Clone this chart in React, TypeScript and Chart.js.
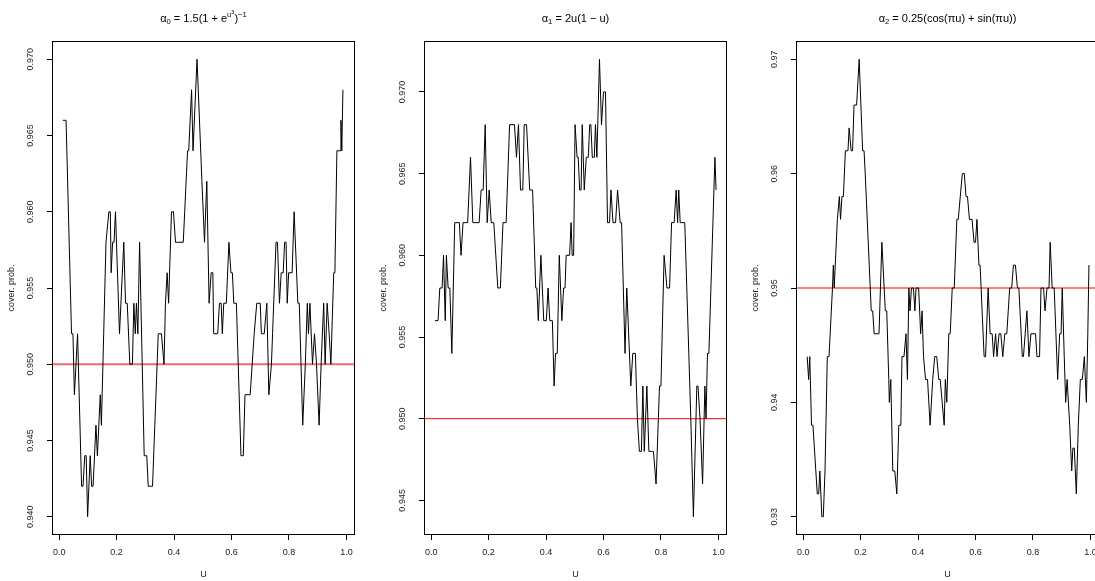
import React, { useEffect, useRef } from 'react';
import { Chart, registerables } from 'chart.js';

Chart.register(...registerables);

// ---------- data (u, coverage probability) ----------
const alpha0Series: [number, number][] = [
  [0.013, 0.966], [0.024, 0.966], [0.043, 0.952], [0.048, 0.952], [0.053, 0.948], [0.064, 0.952],
  [0.078, 0.942], [0.083, 0.942], [0.089, 0.944], [0.094, 0.944], [0.099, 0.940], [0.108, 0.944],
  [0.113, 0.942], [0.118, 0.942], [0.128, 0.946], [0.133, 0.944], [0.143, 0.948], [0.147, 0.946],
  [0.155, 0.952], [0.163, 0.958], [0.173, 0.960], [0.178, 0.960], [0.181, 0.956], [0.186, 0.958],
  [0.191, 0.958], [0.196, 0.960], [0.210, 0.952], [0.225, 0.958], [0.231, 0.954], [0.237, 0.954],
  [0.246, 0.950], [0.255, 0.950], [0.260, 0.954], [0.265, 0.952], [0.269, 0.954], [0.274, 0.952],
  [0.280, 0.958], [0.296, 0.944], [0.305, 0.944], [0.310, 0.942], [0.325, 0.942], [0.345, 0.952],
  [0.356, 0.952], [0.365, 0.950], [0.370, 0.954], [0.376, 0.956], [0.381, 0.954], [0.391, 0.960],
  [0.398, 0.960], [0.405, 0.958], [0.412, 0.958], [0.432, 0.958], [0.437, 0.960], [0.447, 0.964],
  [0.451, 0.964], [0.461, 0.968], [0.466, 0.964], [0.480, 0.970], [0.497, 0.962], [0.506, 0.958],
  [0.514, 0.962], [0.522, 0.954], [0.529, 0.956], [0.535, 0.956], [0.538, 0.952], [0.552, 0.952],
  [0.558, 0.954], [0.564, 0.954], [0.568, 0.952], [0.573, 0.954], [0.582, 0.954], [0.591, 0.958],
  [0.598, 0.956], [0.603, 0.956], [0.608, 0.954], [0.617, 0.954], [0.633, 0.944], [0.641, 0.944],
  [0.647, 0.948], [0.665, 0.948], [0.672, 0.950], [0.679, 0.952], [0.688, 0.954], [0.700, 0.954],
  [0.704, 0.952], [0.714, 0.952], [0.723, 0.954], [0.730, 0.948], [0.739, 0.950], [0.743, 0.952],
  [0.755, 0.958], [0.760, 0.958], [0.767, 0.954], [0.773, 0.956], [0.780, 0.956], [0.785, 0.958],
  [0.790, 0.958], [0.794, 0.954], [0.799, 0.956], [0.811, 0.956], [0.818, 0.960], [0.831, 0.954],
  [0.836, 0.954], [0.848, 0.946], [0.857, 0.950], [0.864, 0.954], [0.868, 0.952], [0.873, 0.954],
  [0.882, 0.950], [0.889, 0.952], [0.896, 0.950], [0.905, 0.946], [0.912, 0.950], [0.921, 0.954],
  [0.926, 0.950], [0.933, 0.954], [0.940, 0.952], [0.946, 0.950], [0.956, 0.956], [0.960, 0.956],
  [0.967, 0.964], [0.978, 0.964], [0.981, 0.966], [0.984, 0.964], [0.988, 0.968],
];

const alpha1Series: [number, number][] = [
  [0.013, 0.956], [0.024, 0.956], [0.030, 0.958], [0.038, 0.958], [0.043, 0.960], [0.049, 0.956],
  [0.053, 0.960], [0.059, 0.958], [0.065, 0.958], [0.072, 0.954], [0.082, 0.962], [0.098, 0.962],
  [0.104, 0.960], [0.111, 0.962], [0.127, 0.962], [0.137, 0.966], [0.145, 0.962], [0.167, 0.962],
  [0.174, 0.964], [0.181, 0.964], [0.188, 0.968], [0.195, 0.962], [0.202, 0.964], [0.209, 0.962],
  [0.218, 0.962], [0.232, 0.958], [0.241, 0.958], [0.250, 0.962], [0.261, 0.962], [0.273, 0.968],
  [0.290, 0.968], [0.297, 0.966], [0.304, 0.968], [0.311, 0.964], [0.319, 0.964], [0.324, 0.968],
  [0.332, 0.968], [0.343, 0.964], [0.353, 0.964], [0.364, 0.958], [0.368, 0.958], [0.373, 0.956],
  [0.382, 0.960], [0.392, 0.956], [0.401, 0.956], [0.407, 0.958], [0.413, 0.956], [0.422, 0.956],
  [0.428, 0.952], [0.433, 0.954], [0.439, 0.954], [0.446, 0.960], [0.455, 0.956], [0.461, 0.958],
  [0.466, 0.958], [0.470, 0.960], [0.482, 0.960], [0.487, 0.962], [0.491, 0.960], [0.496, 0.960],
  [0.501, 0.968], [0.508, 0.966], [0.512, 0.966], [0.517, 0.964], [0.522, 0.964], [0.526, 0.968],
  [0.533, 0.964], [0.540, 0.966], [0.547, 0.966], [0.552, 0.968], [0.556, 0.968], [0.561, 0.966],
  [0.568, 0.966], [0.572, 0.968], [0.577, 0.966], [0.586, 0.972], [0.593, 0.968], [0.600, 0.970],
  [0.607, 0.970], [0.614, 0.962], [0.621, 0.962], [0.626, 0.964], [0.633, 0.962], [0.642, 0.962],
  [0.649, 0.964], [0.658, 0.962], [0.663, 0.962], [0.675, 0.954], [0.681, 0.958], [0.695, 0.952],
  [0.702, 0.954], [0.711, 0.954], [0.718, 0.950], [0.725, 0.948], [0.732, 0.948], [0.737, 0.952],
  [0.742, 0.948], [0.751, 0.952], [0.758, 0.948], [0.767, 0.948], [0.774, 0.948], [0.783, 0.946],
  [0.795, 0.952], [0.800, 0.952], [0.811, 0.960], [0.821, 0.958], [0.830, 0.958], [0.837, 0.962],
  [0.846, 0.962], [0.853, 0.964], [0.858, 0.962], [0.862, 0.964], [0.867, 0.962], [0.883, 0.962],
  [0.897, 0.954], [0.904, 0.950], [0.913, 0.944], [0.925, 0.952], [0.929, 0.952], [0.936, 0.950],
  [0.945, 0.946], [0.953, 0.952], [0.957, 0.950], [0.962, 0.954], [0.967, 0.954], [0.974, 0.958],
  [0.981, 0.962], [0.988, 0.966], [0.992, 0.964],
];

const alpha2Series: [number, number][] = [
  [0.014, 0.944], [0.019, 0.942], [0.023, 0.944], [0.029, 0.938], [0.034, 0.938], [0.049, 0.932],
  [0.054, 0.932], [0.058, 0.934], [0.065, 0.930], [0.070, 0.930], [0.076, 0.934], [0.084, 0.944],
  [0.090, 0.944], [0.102, 0.950], [0.105, 0.952], [0.108, 0.950], [0.119, 0.956], [0.126, 0.958],
  [0.130, 0.956], [0.135, 0.958], [0.140, 0.958], [0.147, 0.962], [0.156, 0.962], [0.160, 0.964],
  [0.167, 0.962], [0.172, 0.962], [0.177, 0.966], [0.186, 0.966], [0.195, 0.970], [0.207, 0.962],
  [0.212, 0.962], [0.216, 0.960], [0.230, 0.952], [0.237, 0.948], [0.242, 0.948], [0.247, 0.946],
  [0.264, 0.946], [0.274, 0.954], [0.286, 0.948], [0.291, 0.948], [0.298, 0.942], [0.300, 0.940],
  [0.305, 0.942], [0.312, 0.934], [0.319, 0.934], [0.326, 0.932], [0.333, 0.938], [0.340, 0.938],
  [0.344, 0.944], [0.351, 0.944], [0.358, 0.946], [0.363, 0.942], [0.368, 0.950], [0.372, 0.948],
  [0.377, 0.950], [0.384, 0.950], [0.389, 0.948], [0.393, 0.950], [0.402, 0.950], [0.409, 0.946],
  [0.414, 0.948], [0.419, 0.944], [0.426, 0.942], [0.433, 0.942], [0.442, 0.938], [0.451, 0.942],
  [0.458, 0.944], [0.465, 0.944], [0.472, 0.942], [0.477, 0.942], [0.484, 0.940], [0.491, 0.938],
  [0.495, 0.942], [0.500, 0.940], [0.507, 0.946], [0.512, 0.946], [0.519, 0.950], [0.526, 0.950],
  [0.535, 0.956], [0.540, 0.956], [0.547, 0.958], [0.554, 0.960], [0.561, 0.960], [0.567, 0.958],
  [0.572, 0.958], [0.579, 0.956], [0.588, 0.956], [0.595, 0.954], [0.600, 0.954], [0.605, 0.956],
  [0.612, 0.952], [0.616, 0.952], [0.623, 0.948], [0.630, 0.944], [0.635, 0.944], [0.644, 0.950],
  [0.651, 0.946], [0.658, 0.946], [0.663, 0.944], [0.670, 0.946], [0.675, 0.944], [0.682, 0.946],
  [0.688, 0.946], [0.695, 0.944], [0.702, 0.946], [0.709, 0.946], [0.719, 0.950], [0.726, 0.950],
  [0.732, 0.952], [0.739, 0.952], [0.746, 0.950], [0.751, 0.950], [0.763, 0.944], [0.767, 0.944],
  [0.779, 0.948], [0.786, 0.944], [0.793, 0.946], [0.809, 0.946], [0.814, 0.944], [0.823, 0.944],
  [0.828, 0.950], [0.837, 0.950], [0.842, 0.948], [0.849, 0.950], [0.856, 0.950], [0.860, 0.954],
  [0.867, 0.950], [0.874, 0.950], [0.886, 0.942], [0.893, 0.946], [0.898, 0.946], [0.902, 0.950],
  [0.909, 0.944], [0.914, 0.940], [0.919, 0.942], [0.928, 0.938], [0.935, 0.934], [0.939, 0.936],
  [0.944, 0.936], [0.951, 0.932], [0.958, 0.938], [0.965, 0.942], [0.972, 0.942], [0.979, 0.944],
  [0.986, 0.940], [0.991, 0.946], [0.995, 0.952],
];

const xTicks = [0, 0.2, 0.4, 0.6, 0.8, 1.0];
const xTickLabels = ['0.0', '0.2', '0.4', '0.6', '0.8', '1.0'];
const yTicks0 = [0.94, 0.945, 0.95, 0.955, 0.96, 0.965, 0.97];
const yTickLabels0 = ['0.940', '0.945', '0.950', '0.955', '0.960', '0.965', '0.970'];
const yTicks1 = [0.945, 0.95, 0.955, 0.96, 0.965, 0.97];
const yTickLabels1 = ['0.945', '0.950', '0.955', '0.960', '0.965', '0.970'];
const yTicks2 = [0.93, 0.94, 0.95, 0.96, 0.97];
const yTickLabels2 = ['0.93', '0.94', '0.95', '0.96', '0.97'];
const nominalLevel = 0.95;
const xLabel = 'U';
const yLabel = 'cover. prob.';

type Seg = { t: string; s: number; dy: number };
const title0: Seg[] = [
  { t: 'α', s: 1, dy: 0 }, { t: '0', s: 0.7, dy: 0.25 }, { t: ' = 1.5(1 + e', s: 1, dy: 0 },
  { t: 'u', s: 0.7, dy: -0.42 }, { t: '3', s: 0.5, dy: -0.72 }, { t: ')', s: 1, dy: 0 },
  { t: '−1', s: 0.7, dy: -0.42 },
];
const title1: Seg[] = [
  { t: 'α', s: 1, dy: 0 }, { t: '1', s: 0.7, dy: 0.25 }, { t: ' = 2u(1 − u)', s: 1, dy: 0 },
];
const title2: Seg[] = [
  { t: 'α', s: 1, dy: 0 }, { t: '2', s: 0.7, dy: 0.25 }, { t: ' = 0.25(cos(πu) + sin(πu))', s: 1, dy: 0 },
];

// ---------- layout ----------
const PANEL_W = 372;
const H = 581;
const BOX_LEFT = 52;
const BOX_RIGHT = 355;
const BOX_TOP = 41;
const BOX_BOTTOM = 535;
const X_MIN = -0.025;
const X_MAX = 1.03;
const FONT = '"Liberation Sans", Arial, Helvetica, sans-serif';
const TICK_PX = 9;
const TITLE_PX = 11;

type PanelProps = {
  idx: number;
  series: [number, number][];
  yMin: number;
  yMax: number;
  yTicks: number[];
  yTickLabels: string[];
  title: Seg[];
  refColor: string;
  refWidth: number;
};

function Panel(p: PanelProps) {
  const ref = useRef<HTMLCanvasElement>(null);
  useEffect(() => {
    const canvas = ref.current!;
    const decor = {
      id: 'rdecor',
      afterDraw(chart: any) {
        const ctx = chart.ctx as CanvasRenderingContext2D;
        const a = chart.chartArea;
        const xs = chart.scales.x;
        const ys = chart.scales.y;
        ctx.save();
        // box
        ctx.strokeStyle = '#000';
        ctx.lineWidth = 1;
        const l = Math.round(a.left) + 0.5, r = Math.round(a.right) - 0.5;
        const t = Math.round(a.top) + 0.5, b = Math.round(a.bottom) - 0.5;
        ctx.strokeRect(l, t, r - l, b - t);
        ctx.fillStyle = '#1a1a1a';
        // x tick labels
        ctx.font = `${TICK_PX}px ${FONT}`;
        ctx.textAlign = 'center';
        ctx.textBaseline = 'alphabetic';
        xTicks.forEach((v, i) => {
          ctx.fillText(xTickLabels[i], xs.getPixelForValue(v), a.bottom + 20);
        });
        // x label
        ctx.fillText(xLabel, (a.left + a.right) / 2, a.bottom + 41.5);
        // y tick labels (rotated)
        p.yTicks.forEach((v, i) => {
          ctx.save();
          ctx.translate(a.left - 19.5, ys.getPixelForValue(v));
          ctx.rotate(-Math.PI / 2);
          ctx.fillText(p.yTickLabels[i], 0, 0);
          ctx.restore();
        });
        // y label
        ctx.save();
        ctx.translate(a.left - 38, (a.top + a.bottom) / 2);
        ctx.rotate(-Math.PI / 2);
        ctx.fillText(yLabel, 0, 0);
        ctx.restore();
        // title (plotmath-like)
        let total = 0;
        const widths: number[] = [];
        p.title.forEach((g) => {
          ctx.font = `${TITLE_PX * g.s}px ${FONT}`;
          const w = ctx.measureText(g.t).width;
          widths.push(w);
          total += w;
        });
        let x = (a.left + a.right) / 2 - total / 2;
        ctx.textAlign = 'left';
        ctx.fillStyle = '#000';
        p.title.forEach((g, i) => {
          ctx.font = `${TITLE_PX * g.s}px ${FONT}`;
          ctx.fillText(g.t, x, 21.5 + g.dy * TITLE_PX);
          x += widths[i];
        });
        ctx.restore();
      },
    };
    const chart = new Chart(canvas, {
      type: 'line',
      data: {
        datasets: [
          {
            data: p.series.map(([u, v]) => ({ x: u, y: v })),
            borderColor: '#000',
            borderWidth: 1,
            pointRadius: 0,
            tension: 0,
            fill: false,
          },
          {
            data: [{ x: X_MIN, y: nominalLevel }, { x: X_MAX, y: nominalLevel }],
            borderColor: p.refColor,
            borderWidth: p.refWidth,
            pointRadius: 0,
            fill: false,
          },
        ],
      },
      options: {
        animation: false,
        responsive: false,
        maintainAspectRatio: false,
        devicePixelRatio: 1,
        events: [],
        layout: { padding: { left: 0, top: BOX_TOP, right: PANEL_W - BOX_RIGHT, bottom: 0 } },
        plugins: { legend: { display: false }, tooltip: { enabled: false }, title: { display: false } },
        scales: {
          x: {
            type: 'linear',
            min: X_MIN,
            max: X_MAX,
            afterBuildTicks: (s: any) => { s.ticks = xTicks.map((v) => ({ value: v })); },
            afterFit: (s: any) => { s.height = H - BOX_BOTTOM; },
            ticks: { display: false },
            grid: { display: true, drawOnChartArea: false, drawTicks: true, tickLength: 5, color: '#000', lineWidth: 1 },
            border: { display: false },
          },
          y: {
            type: 'linear',
            min: p.yMin,
            max: p.yMax,
            afterBuildTicks: (s: any) => { s.ticks = p.yTicks.map((v) => ({ value: v })); },
            afterFit: (s: any) => { s.width = BOX_LEFT; },
            ticks: { display: false },
            grid: { display: true, drawOnChartArea: false, drawTicks: true, tickLength: 5, color: '#000', lineWidth: 1 },
            border: { display: false },
          },
        },
      },
      plugins: [decor],
    } as any);
    return () => chart.destroy();
  }, []);
  return (
    <canvas
      ref={ref}
      width={PANEL_W}
      height={H}
      style={{ position: 'absolute', left: p.idx * PANEL_W, top: 0, width: PANEL_W, height: H }}
    />
  );
}

export default function App() {
  return (
    <div style={{ position: 'absolute', left: 0, top: 0, width: 1095, height: 581, overflow: 'hidden', background: '#fff' }}>
      <Panel idx={0} series={alpha0Series} yMin={0.9388} yMax={0.9712} yTicks={yTicks0}
        yTickLabels={yTickLabels0} title={title0} refColor="#ef6b6b" refWidth={2} />
      <Panel idx={1} series={alpha1Series} yMin={0.94288} yMax={0.97312} yTicks={yTicks1}
        yTickLabels={yTickLabels1} title={title1} refColor="#ff0000" refWidth={1} />
      <Panel idx={2} series={alpha2Series} yMin={0.9284} yMax={0.9716} yTicks={yTicks2}
        yTickLabels={yTickLabels2} title={title2} refColor="#ff0000" refWidth={1} />
    </div>
  );
}
